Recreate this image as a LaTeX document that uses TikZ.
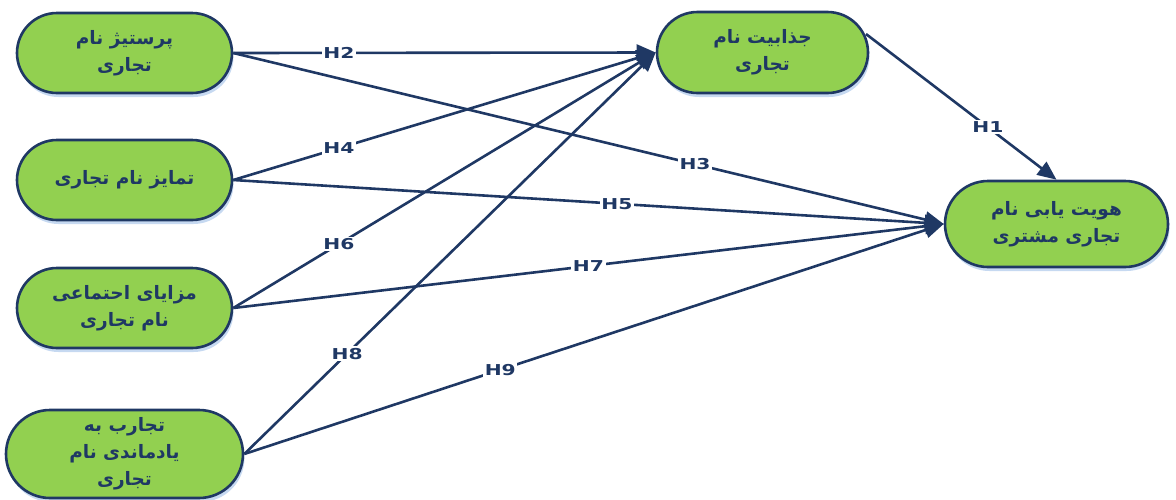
\documentclass[tikz,border=0pt]{standalone}
\usepackage{fontspec}
\setmainfont{DejaVu Sans}
\newfontfamily\arabicfont[Script=Arabic]{DejaVu Sans}
\TeXXeTstate=1
\usetikzlibrary{arrows.meta,shadows,shapes.misc}
\definecolor{navy}{HTML}{1F3864}
\definecolor{leaf}{HTML}{92D050}
\definecolor{shade}{HTML}{C6D9F1}
\newcommand{\hyp}[1]{\scalebox{1.35}[1]{#1}}
\begin{document}
\begin{tikzpicture}[x=1pt,y=-1pt,
  ovalbox/.style={rounded rectangle,draw=navy,line width=2.6pt,fill=leaf,
    text=navy,align=center,inner sep=0pt,
    font=\arabicfont\bfseries\fontsize{18.5}{27}\selectfont,
    drop shadow={shadow xshift=1.5pt,shadow yshift=-4pt,fill=shade,opacity=1}},
  link/.style={draw=navy,line width=2.6pt,-{Triangle[length=19pt,width=16pt]}},
  hlabel/.style={fill=white,text=navy,inner sep=1.5pt,font=\bfseries\fontsize{15}{16}\selectfont}]
\useasboundingbox (0,0) rectangle (1176,499);
\node[ovalbox,minimum width=215pt,minimum height=80pt] (n1) at (124.5,53)
  {\beginR پرستیژ نام\endR\\\beginR تجاری\endR};
\node[ovalbox,minimum width=215pt,minimum height=80pt] (n2) at (124.5,180)
  {\beginR تمایز نام تجاری\endR};
\node[ovalbox,minimum width=215pt,minimum height=80pt] (n3) at (124.5,308)
  {\beginR مزایای احتماعی\endR\\\beginR نام تجاری\endR};
\node[ovalbox,minimum width=237pt,minimum height=88pt] (n4) at (124.5,454)
  {\beginR تجارب به\endR\\\beginR یادماندی نام\endR\\\beginR تجاری\endR};
\node[ovalbox,minimum width=211pt,minimum height=81pt] (n5) at (762.5,52.5)
  {\beginR جذابیت نام\endR\\\beginR تجاری\endR};
\node[ovalbox,minimum width=223pt,minimum height=86pt] (n6) at (1056.5,224)
  {\beginR هویت یابی نام\endR\\\beginR تجاری مشتری\endR};
\coordinate (h1s) at (866,34);
\draw[link] (n1.east) -- node[hlabel,pos=0.25] {\hyp{H2}} (n5.west);
\draw[link] (n1.east) -- node[hlabel,pos=0.65] {\hyp{H3}} (n6.west);
\draw[link] (n2.east) -- node[hlabel,pos=0.25] {\hyp{H4}} (n5.west);
\draw[link] (n2.east) -- node[hlabel,pos=0.54] {\hyp{H5}} (n6.west);
\draw[link] (n3.east) -- node[hlabel,pos=0.25] {\hyp{H6}} (n5.west);
\draw[link] (n3.east) -- node[hlabel,pos=0.50] {\hyp{H7}} (n6.west);
\draw[link] (n4.east) -- node[hlabel,pos=0.25] {\hyp{H8}} (n5.west);
\draw[link] (n4.east) -- node[hlabel,pos=0.366] {\hyp{H9}} (n6.west);
\draw[link] (h1s) -- node[hlabel,pos=0.64] {\hyp{H1}} (n6.north);
\end{tikzpicture}
\end{document}
